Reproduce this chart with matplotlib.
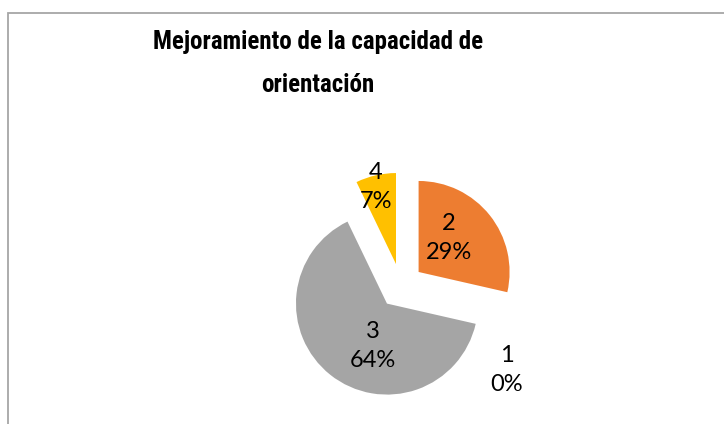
import matplotlib
matplotlib.use("Agg")
import matplotlib.pyplot as plt
from matplotlib import font_manager
from matplotlib.patches import Rectangle

# data
categories = ["1", "2", "3", "4"]
counts = [0, 4, 9, 1]
colors = ["#5B9BD5", "#ED7D31", "#A5A5A5", "#FFC000"]
title_lines = ["Mejoramiento de la capacidad de", "orientación"]


def pick_font(names):
    for n in names:
        try:
            font_manager.findfont(n, fallback_to_default=False)
            return n
        except Exception:
            pass
    return 'DejaVu Sans'


title_fam = pick_font(['Liberation Sans Narrow', 'Roboto Condensed', 'Lato'])
label_fam = pick_font(['Lato', 'Open Sans'])
plt.rcParams['font.family'] = [label_fam, 'DejaVu Sans']

W, H = 724, 424
fig = plt.figure(figsize=(W / 100, H / 100), dpi=100)
ax = fig.add_axes([0, 0, 1, 1])

cx, cy, r = 401, H - 286, 91
wedges, _ = ax.pie(counts, colors=colors, startangle=90, counterclock=False,
                   explode=[22.5] * len(counts), radius=r, center=(cx, cy),
                   wedgeprops=dict(linewidth=0), frame=True)
ax.set_xlim(0, W)
ax.set_ylim(0, H)
ax.set_aspect('equal')
ax.axis('off')

# chart frame (only left/top edges show in the crop)
ax.add_patch(Rectangle((7.5, -20), 900, H - 13 + 20, fill=False,
                       edgecolor="#A6A6A6", lw=1.3))

total = sum(counts)
# label anchor points (pixel offsets from the pie centre)
label_pos = [(106, -84), (48, 48), (-28, -60), (-25, 99)]
for cat, v, (dx, dy) in zip(categories, counts, label_pos):
    pct = round(100 * v / total)
    ax.text(cx + dx, cy + dy, f"{cat}\n{pct}%", ha='center', va='center',
            fontsize=17, linespacing=1.5, color="#000000")

for line, base in zip(title_lines, [49, 92]):
    ax.text(318, H - base, line, ha='center', va='baseline', fontsize=18,
            fontweight='bold', family=[title_fam, 'DejaVu Sans'],
            color="#000000")

fig.savefig("out.png", dpi=100)
